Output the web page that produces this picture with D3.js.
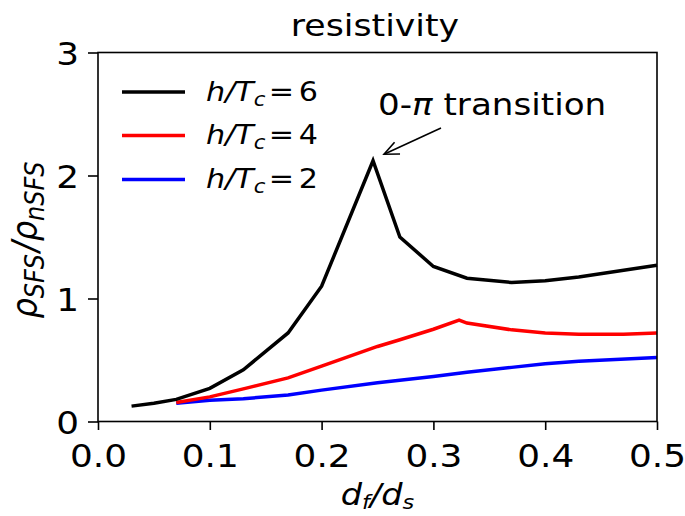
<!DOCTYPE html>
<html><head><meta charset="utf-8">
<script src="https://cdn.jsdelivr.net/npm/d3@7"></script>
<style>body{margin:0;background:#fff}svg{display:block}text{font-family:"DejaVu Sans",sans-serif;fill:#000}</style>
</head><body>
<svg id="c" width="685" height="516"></svg>
<script>
const xTicks = [0.0, 0.1, 0.2, 0.3, 0.4, 0.5];
const yTicks = [0, 1, 2, 3];
const seriesNames = ["6", "4", "2"];
const seriesColors = ["#000000", "#ff0000", "#0000ff"];
const xBlack = [0.03, 0.05, 0.07, 0.10, 0.13, 0.17, 0.20, 0.246, 0.27, 0.30, 0.33, 0.37, 0.40, 0.43, 0.50];
const yBlack = [0.125, 0.148, 0.18, 0.27, 0.42, 0.72, 1.10, 2.12, 1.50, 1.26, 1.165, 1.13, 1.145, 1.175, 1.27];
const xRed = [0.07, 0.10, 0.13, 0.17, 0.20, 0.25, 0.27, 0.30, 0.323, 0.33, 0.37, 0.40, 0.43, 0.47, 0.50];
const yRed = [0.155, 0.20, 0.265, 0.355, 0.45, 0.61, 0.665, 0.75, 0.825, 0.80, 0.745, 0.72, 0.71, 0.71, 0.72];
const xBlue = [0.07, 0.10, 0.13, 0.17, 0.20, 0.25, 0.30, 0.33, 0.37, 0.40, 0.43, 0.50];
const yBlue = [0.148, 0.172, 0.185, 0.215, 0.255, 0.315, 0.365, 0.40, 0.44, 0.47, 0.49, 0.52];
const peak = [0.246, 2.12];

const svg = d3.select("#c");
const L = 98, R = 657, T = 52.5, B = 421.5;
const x = d3.scaleLinear().domain([0, 0.5]).range([L, R]);
const y = d3.scaleLinear().domain([0, 3]).range([B, T]);
const SX = 1.12; // horizontal stretch of the reference's glyphs
const place = (sel, px, py) => sel.attr("x", 0).attr("y", 0).attr("transform", `translate(${px},${py}) scale(${SX},1)`);

const series = [
  xBlack.map((v, i) => [v, yBlack[i]]),
  xRed.map((v, i) => [v, yRed[i]]),
  xBlue.map((v, i) => [v, yBlue[i]])
];
const line = d3.line().x(d => x(d[0])).y(d => y(d[1]));
[2, 1, 0].forEach(k => {
  svg.append("path").attr("d", line(series[k])).attr("fill", "none")
    .attr("stroke", seriesColors[k]).attr("stroke-width", 3.5)
    .attr("stroke-linejoin", "miter").attr("stroke-linecap", "butt");
});

// axes
const xa = svg.append("g").attr("transform", `translate(0,${B})`)
  .call(d3.axisBottom(x).tickValues(xTicks).tickFormat(d3.format(".1f")).tickSize(8.5));
const ya = svg.append("g").attr("transform", `translate(${L},0)`)
  .call(d3.axisLeft(y).tickValues(yTicks).tickFormat(d3.format("d")).tickSize(10));
[xa, ya].forEach(g => {
  g.select(".domain").remove();
  g.selectAll("line").attr("stroke", "#000").attr("stroke-width", 1.6);
  g.selectAll("text").attr("font-size", 32).attr("font-family", "DejaVu Sans").attr("fill", "#000").attr("dy", null);
});
xa.selectAll(".tick text").each(function () { place(d3.select(this), 0, 45.5); });
ya.selectAll(".tick text").each(function () { place(d3.select(this), -19, 11.5); });
svg.append("rect").attr("x", L).attr("y", T).attr("width", R - L).attr("height", B - T)
  .attr("fill", "none").attr("stroke", "#000").attr("stroke-width", 1.6);

// title
place(svg.append("text").attr("text-anchor", "middle").attr("font-size", 31).text("resistivity"), 375, 36);

// x label
const xl = svg.append("text").attr("text-anchor", "middle").attr("font-size", 30);
place(xl, 377.5, 505);
xl.append("tspan").attr("font-style", "italic").text("d");
xl.append("tspan").attr("font-style", "italic").attr("font-size", 20).attr("dy", 4).text("f");
xl.append("tspan").attr("font-style", "italic").attr("dy", -4).text("/d");
xl.append("tspan").attr("font-style", "italic").attr("font-size", 20).attr("dy", 4).text("s");

// y label (rotated; stretch applies along glyph height)
const yl = svg.append("text").attr("x", 0).attr("y", 0)
  .attr("transform", `translate(37,240) scale(${SX},1) rotate(-90)`)
  .attr("text-anchor", "middle").attr("font-size", 32);
yl.append("tspan").attr("font-style", "italic").text("ρ");
yl.append("tspan").attr("font-style", "italic").attr("font-size", 24).attr("dy", 6).text("SFS");
yl.append("tspan").attr("font-style", "italic").attr("dy", -6).attr("dx", 2).text("/ρ");
yl.append("tspan").attr("font-style", "italic").attr("font-size", 24).attr("dy", 6).text("nSFS");

// legend
const legY = [92, 135.5, 179.5];
seriesNames.forEach((n, i) => {
  svg.append("line").attr("x1", 122).attr("x2", 185).attr("y1", legY[i]).attr("y2", legY[i])
    .attr("stroke", seriesColors[i]).attr("stroke-width", 3.5);
  const t = svg.append("text").attr("font-size", 27);
  place(t, 206, legY[i] + 8.7);
  t.append("tspan").attr("font-style", "italic").text("h/T");
  t.append("tspan").attr("font-style", "italic").attr("font-size", 19).attr("dy", 5).text("c");
  t.append("tspan").attr("dy", -5).attr("dx", 3).text("=");
  t.append("tspan").attr("dx", 4).text(n);
});

// annotation
const at = svg.append("text").attr("font-size", 30.5);
place(at, 378, 115);
at.append("tspan").text("0-");
at.append("tspan").attr("font-style", "italic").text("π");
at.append("tspan").text(" transition");
const ax0 = 441, ay0 = 128;
const ax1 = x(peak[0]) + 11, ay1 = y(peak[1]) - 6.5;
svg.append("line").attr("x1", ax0).attr("y1", ay0).attr("x2", ax1).attr("y2", ay1)
  .attr("stroke", "#000").attr("stroke-width", 1.6);
const ang = Math.atan2(ay0 - ay1, ax0 - ax1);
const hl = 16, ha = 0.42;
svg.append("path").attr("d", `M${ax1 + hl * Math.cos(ang + ha)},${ay1 + hl * Math.sin(ang + ha)} L${ax1},${ay1} L${ax1 + hl * Math.cos(ang - ha)},${ay1 + hl * Math.sin(ang - ha)}`)
  .attr("fill", "none").attr("stroke", "#000").attr("stroke-width", 1.6);
</script>
</body></html>
